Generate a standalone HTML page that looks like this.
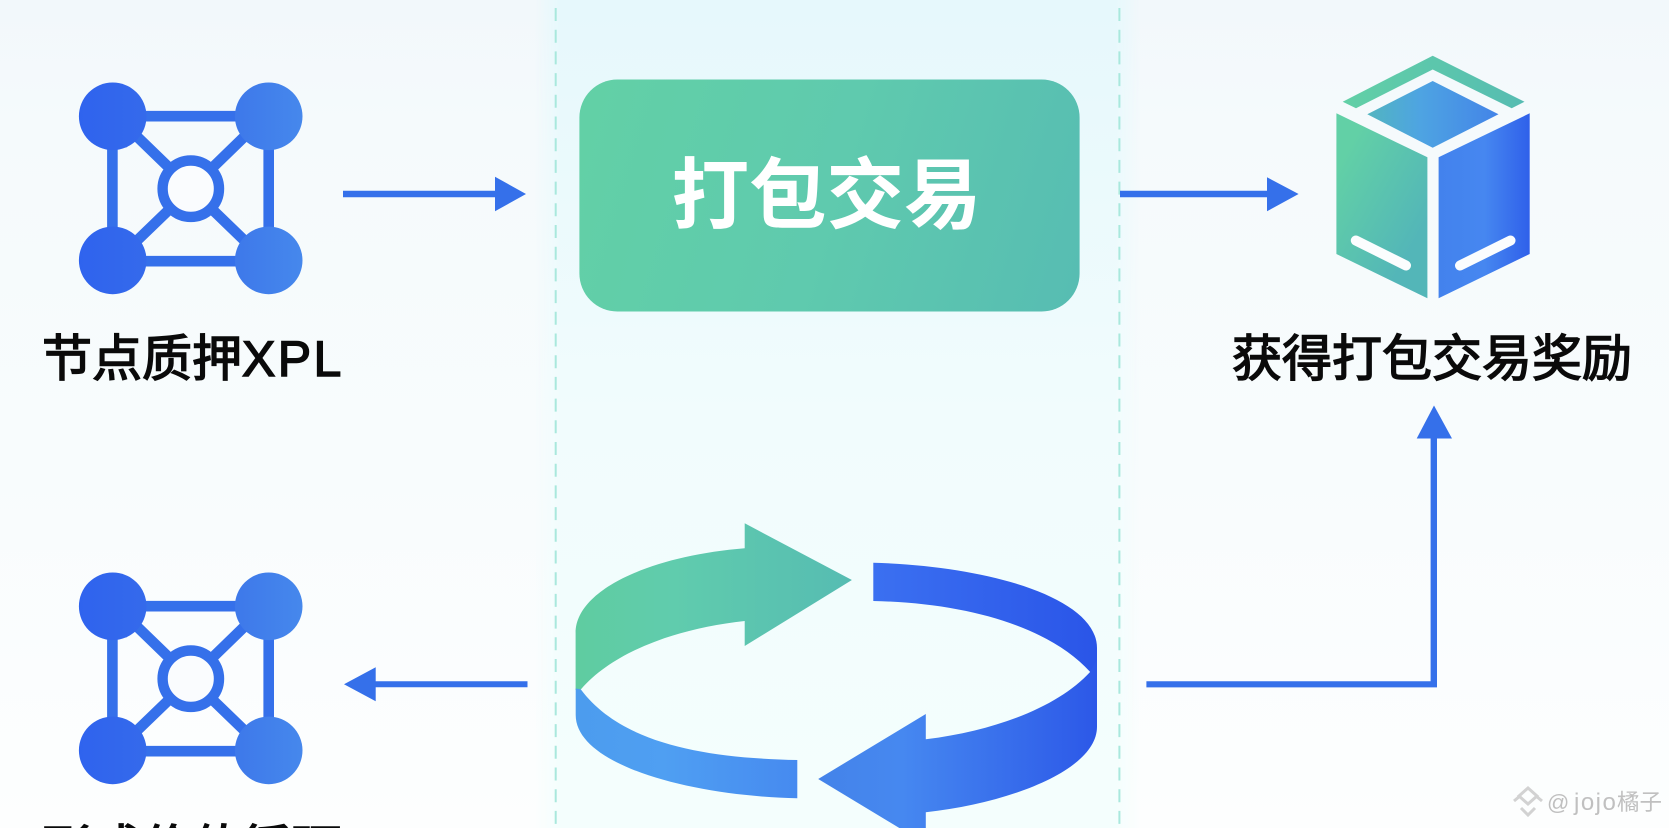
<!DOCTYPE html>
<html lang="zh"><head><meta charset="utf-8"><style>
html,body{margin:0;padding:0;width:1669px;height:828px;overflow:hidden;background:#fff}
svg{display:block;width:1669px;height:828px}
text{font-family:"Liberation Sans","Noto Sans CJK SC",sans-serif}
</style></head><body>
<svg width="1669" height="828" viewBox="0 0 1669 828" xmlns="http://www.w3.org/2000/svg">
<defs>
<linearGradient id="bg" x1="0" y1="0" x2="0" y2="1"><stop offset="0" stop-color="#f2f8fb"/><stop offset=".15" stop-color="#f5fafc"/><stop offset=".55" stop-color="#f8fcfd"/><stop offset="1" stop-color="#fdfefe"/></linearGradient>
<linearGradient id="band" x1="0" y1="0" x2="0" y2="1"><stop offset="0" stop-color="#e6f8fc"/><stop offset=".5" stop-color="#f1fcfd"/><stop offset="1" stop-color="#f4fefd"/></linearGradient>
<linearGradient id="fade" gradientUnits="userSpaceOnUse" x1="535" y1="0" x2="1140" y2="0"><stop offset="0" stop-color="#000"/><stop offset=".04" stop-color="#fff"/><stop offset=".96" stop-color="#fff"/><stop offset="1" stop-color="#000"/></linearGradient>
<mask id="fm" maskUnits="userSpaceOnUse" x="0" y="0" width="1669" height="828"><rect x="535" y="0" width="605" height="828" fill="url(#fade)"/></mask>
<linearGradient id="rect" gradientUnits="userSpaceOnUse" x1="579" y1="120" x2="1080" y2="270"><stop offset="0" stop-color="#62d0a6"/><stop offset=".5" stop-color="#5fcaae"/><stop offset="1" stop-color="#57bdb2"/></linearGradient>
<linearGradient id="node" gradientUnits="userSpaceOnUse" x1="78" y1="0" x2="303" y2="0"><stop offset="0" stop-color="#2f63ee"/><stop offset=".5" stop-color="#386ee9"/><stop offset="1" stop-color="#4688ec"/></linearGradient>
<linearGradient id="gr" gradientUnits="userSpaceOnUse" x1="575" y1="0" x2="852" y2="0"><stop offset="0" stop-color="#5fcca0"/><stop offset=".35" stop-color="#60ccad"/><stop offset="1" stop-color="#56bcb2"/></linearGradient>
<linearGradient id="bt" gradientUnits="userSpaceOnUse" x1="873" y1="0" x2="1097" y2="0"><stop offset="0" stop-color="#3b70f1"/><stop offset="1" stop-color="#2a55e8"/></linearGradient>
<linearGradient id="bb" gradientUnits="userSpaceOnUse" x1="818" y1="0" x2="1097" y2="0"><stop offset="0" stop-color="#4483e9"/><stop offset=".3" stop-color="#4688f0"/><stop offset="1" stop-color="#2c58e8"/></linearGradient>
<linearGradient id="lb" gradientUnits="userSpaceOnUse" x1="575" y1="0" x2="798" y2="0"><stop offset="0" stop-color="#4c9cee"/><stop offset=".4" stop-color="#4f9ff2"/><stop offset="1" stop-color="#468af0"/></linearGradient>
<linearGradient id="cl" gradientUnits="userSpaceOnUse" x1="1336" y1="170" x2="1427" y2="220"><stop offset="0" stop-color="#62d0a6"/><stop offset="1" stop-color="#53b6b8"/></linearGradient>
<linearGradient id="cr" gradientUnits="userSpaceOnUse" x1="1439" y1="0" x2="1530" y2="0"><stop offset="0" stop-color="#4382ed"/><stop offset=".5" stop-color="#4687f0"/><stop offset="1" stop-color="#2f60ea"/></linearGradient>
<linearGradient id="ct" gradientUnits="userSpaceOnUse" x1="1367" y1="0" x2="1499" y2="0"><stop offset="0" stop-color="#52b5c0"/><stop offset=".4" stop-color="#4ea4e2"/><stop offset="1" stop-color="#4384e8"/></linearGradient>
<linearGradient id="cb" gradientUnits="userSpaceOnUse" x1="1342" y1="0" x2="1526" y2="0"><stop offset="0" stop-color="#62d0a6"/><stop offset="1" stop-color="#56bcb2"/></linearGradient>
<g id="net">
<g stroke="#3570ea" fill="none" stroke-width="10.6">
<path d="M112.5 116.2H268.7M112.5 261.2H268.7M112.4 116.2V261.2M268.7 116.2V261.2"/>
<path d="M112.7 113L190.8 188.7M268.7 113L190.8 188.7M112.7 264L190.8 188.7M268.7 264L190.8 188.7"/>
</g>
<circle cx="190.8" cy="188.7" r="28.2" fill="#fafcfe" stroke="#3570ea" stroke-width="10.4"/>
<circle cx="112.7" cy="116.3" r="33.8" fill="url(#node)"/>
<circle cx="268.7" cy="116.3" r="33.8" fill="url(#node)"/>
<circle cx="112.7" cy="260.4" r="33.8" fill="url(#node)"/>
<circle cx="268.7" cy="260.4" r="33.8" fill="url(#node)"/>
</g>
</defs>
<rect width="1669" height="828" fill="url(#bg)"/>
<rect x="535" y="0" width="605" height="828" fill="url(#band)" mask="url(#fm)"/>
<path d="M555.7 8V828M1119.4 8V828" stroke="#a9e8dd" stroke-width="2" stroke-dasharray="13 8.7" fill="none"/>

<use href="#net"/>
<use href="#net" y="490"/>

<rect x="579.4" y="79.5" width="500.2" height="232" rx="38" fill="url(#rect)"/>
<text x="826.5" y="222" font-size="77.5" font-weight="700" fill="#fff" text-anchor="middle">打包交易</text>

<g fill="#3570ea">
<path d="M343 190.8H495V176.7L526 194L495 211.3V197.2H343Z"/>
<path d="M1120 190.8H1267V177.3L1298.6 194L1267 211.3V197.2H1120Z"/>
<path d="M527.5 681.3H375.7V667.3L344 684.3L375.7 701.3V687.3H527.5Z"/>
<path d="M1146.4 681.2H1430.6V438.5H1416.7L1434 405.5L1452 438.5H1437V687.4H1146.4Z"/>
</g>

<path d="M575.6 690V633C575.6 590 650 556 744.7 548.3V523.3L851.9 580L744.7 646V621C680 628 615 650 581 689.3Z" fill="url(#gr)"/>
<path d="M873.3 562.7C990 566 1097 598 1097 648V680L1090 671.7C1050 628 970 603 873.3 601Z" fill="url(#bt)"/>
<path d="M1090.3 671.7L1097 660V726.7C1097 770 1010 803 925.8 812.3V844L818.2 779L925.8 714V739.3C1000 730 1060 705 1090.3 671.7Z" fill="url(#bb)"/>
<path d="M575.7 688.5L580.7 689.3C620 742 700 758 797.3 760V798.3C690 796 575.7 765 575.7 715Z" fill="url(#lb)"/>

<path d="M1432.7 55.7L1524.5 101.7L1511.7 108.3L1432.7 69.5L1356 108.3L1342.7 101.7Z" fill="url(#cb)"/>
<path d="M1432.7 81L1498.5 114.3L1432.7 147.7L1367.3 114.3Z" fill="url(#ct)"/>
<path d="M1336.4 113.3L1427.4 157.3V298.3L1336.4 254Z" fill="url(#cl)"/>
<path d="M1438.6 157.3L1529.7 113.3V254L1438.6 298.3Z" fill="url(#cr)"/>
<path d="M1355.8 240.5L1406 265.5M1460 265.5L1510.5 240.5" stroke="#fbfdfe" stroke-width="10" stroke-linecap="round" fill="none"/>

<g font-size="50" fill="#0a0a0a" stroke="#0a0a0a" stroke-width="1.5">
<text x="42" y="376">节点质押<tspan letter-spacing="2.4">XPL</tspan></text>
<text x="1232" y="376" textLength="400" lengthAdjust="spacing">获得打包交易奖励</text>
<text x="42" y="866">形成价值循环</text>
</g>

<g transform="translate(1528 801)" fill="none" stroke="#d2d2d2" stroke-width="3">
<path d="M0 -13L9 -5L0 3L-9 -5Z M-14 0L-8 -5M14 0L8 -5M-7 7L0 14L7 7"/>
</g>
<text x="1547" y="810" font-size="22" fill="#c0c0c0">@</text>
<text x="1574" y="810" font-size="24" letter-spacing="1.5" fill="#c0c0c0">jojo</text>
<text x="1617" y="810" font-size="22.5" fill="#c0c0c0">橘子</text>
</svg>
</body></html>
